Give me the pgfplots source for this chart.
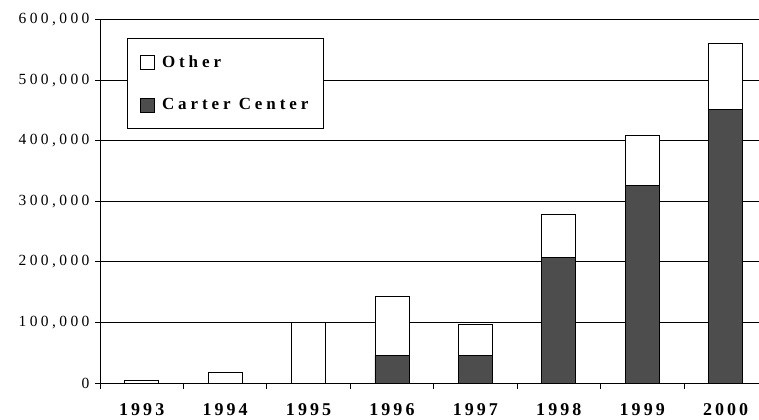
\documentclass[border=0pt]{standalone}
\usepackage{fontspec}
\setmainfont{Liberation Serif}
\newfontfamily\yspaced[LetterSpace=22]{Liberation Serif}
\newfontfamily\xspaced[LetterSpace=17]{Liberation Serif}
\newfontfamily\lspaced[LetterSpace=23]{Liberation Serif}
\usepackage{pgfplots}
\pgfplotsset{compat=1.18}
\definecolor{darkbar}{RGB}{77,77,77}
\begin{document}
\begin{tikzpicture}
\begin{axis}[
  scale only axis,
  width=659bp, height=363.5bp,
  ybar stacked,
  bar width=34bp,
  xmin=-0.5, xmax=7.4,
  ymin=0, ymax=600000,
  scaled y ticks=false,
  axis x line*=bottom,
  axis y line*=left,
  axis line style={black, line width=0.8pt},
  ytick={0,100000,200000,300000,400000,500000,600000},
  yticklabels={{0},{100,000},{200,000},{300,000},{400,000},{500,000},{600,000}},
  yticklabel style={font=\fontsize{15.5bp}{17bp}\yspaced, xshift=-2bp},
  xtick={0,1,2,3,4,5,6,7},
  xticklabels={1993,1994,1995,1996,1997,1998,1999,2000},
  xticklabel style={font=\fontsize{18bp}{20bp}\xspaced\bfseries, yshift=-12bp},
  major x tick style={draw=none},
  minor xtick={-0.5,0.5,1.5,2.5,3.5,4.5,5.5,6.5},
  minor x tick style={black, line width=0.8pt},
  tick align=outside,
  major tick length=5bp,
  minor tick length=6bp,
  ytick style={black, line width=0.8pt},
  ymajorgrids,
  grid style={black, line width=0.7pt},
  legend style={at={(0.041,0.949)}, anchor=north west, draw=black, line width=0.8pt,
    font=\fontsize{17bp}{19bp}\lspaced\bfseries, inner xsep=13bp, inner ysep=15bp, row sep=26bp,
    column sep=5bp, cells={anchor=west}},
  legend image code/.code={\draw[#1, draw=black, line width=0.6pt] (0bp,-7bp) rectangle (14bp,7bp);},
  reverse legend,
]
\addplot[fill=darkbar, draw=black, line width=0.8pt] coordinates {(0,0) (1,0) (2,0) (3,45700) (4,46200) (5,207400) (6,326700) (7,451600)};
\addlegendentry{Carter Center}
\addplot[fill=white, draw=black, line width=0.8pt] coordinates {(0,4500) (1,18000) (2,99500) (3,97300) (4,50700) (5,70300) (6,82000) (7,108400)};
\addlegendentry{Other}
\end{axis}
\pgfresetboundingbox
\path ([xshift=-100bp,yshift=-37bp]current axis.south west) rectangle ([yshift=19.5bp]current axis.north east);
\end{tikzpicture}
\end{document}
